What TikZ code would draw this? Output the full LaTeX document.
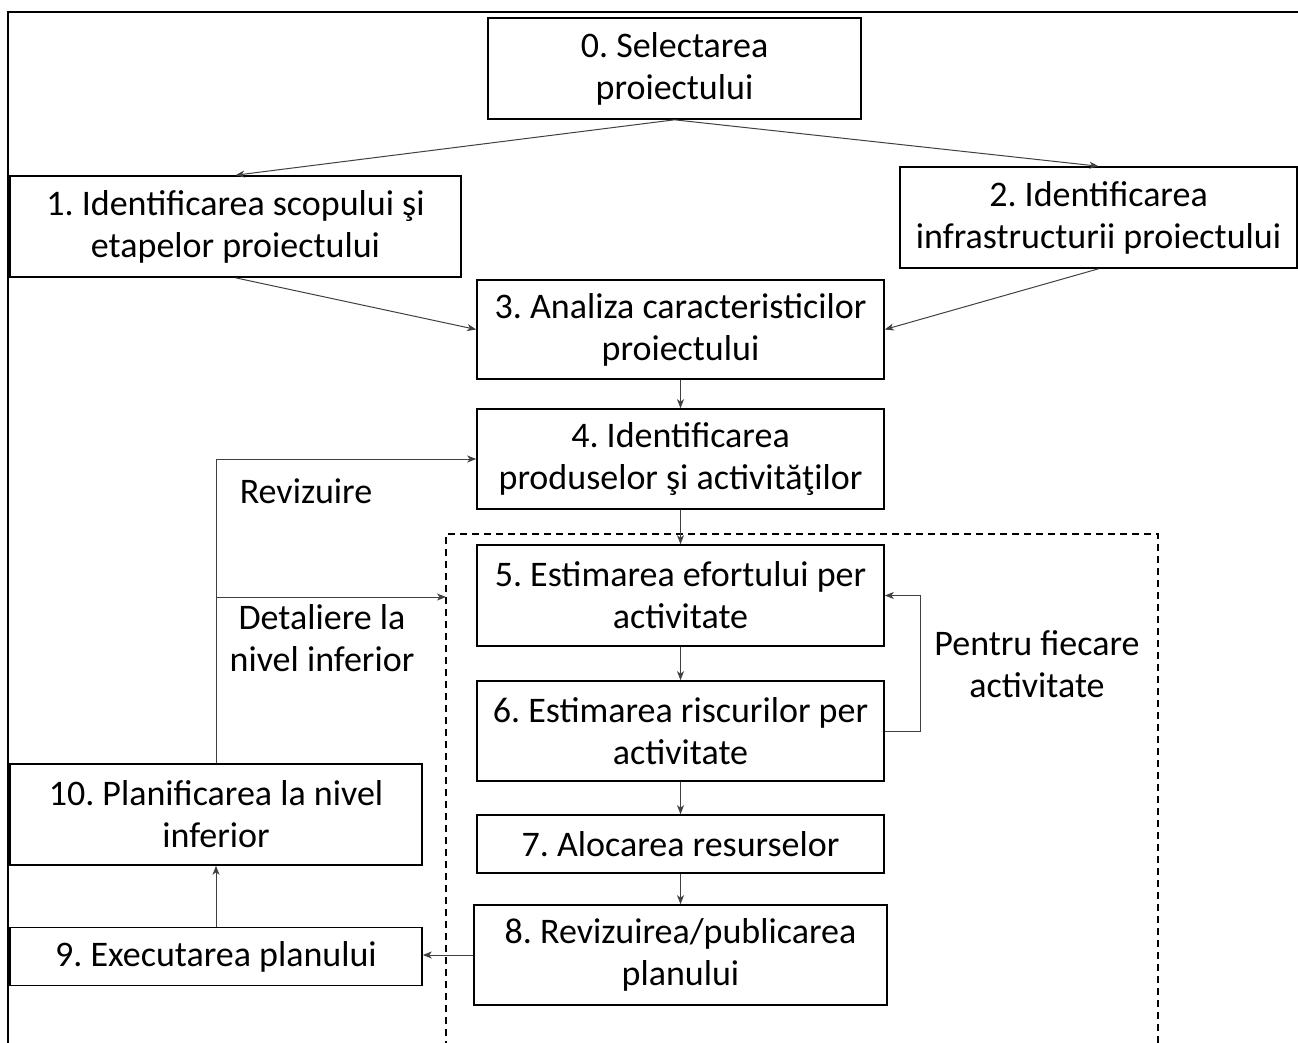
\documentclass[tikz,border=0pt]{standalone}
\usepackage{fontspec}
\setmainfont{Carlito}
\usetikzlibrary{arrows.meta}
\frenchspacing
\begin{document}
\begin{tikzpicture}[x=1pt,y=-1pt,
  every node/.style={font=\fontsize{36}{42}\selectfont, align=center},
  stepbox/.style={draw, line width=1.6pt, inner sep=0pt},
  link/.style={draw=black!75, line width=1pt, -{Stealth[length=9pt,width=7pt,inset=2.5pt]}},
  lbl/.style={inner sep=0pt}]
\useasboundingbox (0,0) rectangle (1298,1042);

% outer frame (continues past the page edge)
\draw[line width=1.6pt] (8,1060) |- (1320,12);

% dashed group around the per-activity steps
\draw[line width=1.4pt, dash pattern=on 7pt off 5pt] (446,1060) |- (1158,534) -- (1158,1060);

% process steps
\node[stepbox, minimum width=373pt, minimum height=101pt] (b0) at (674.5,68.5) {0. Selectarea\\proiectului};
\node[stepbox, minimum width=451pt, minimum height=101pt] (b1) at (235.5,226.5) {1. Identificarea scopului şi\\etapelor proiectului};
\node[stepbox, minimum width=397pt, minimum height=101pt] (b2) at (1098.5,217.5) {2. Identificarea\\infrastructurii proiectului};
\node[stepbox, minimum width=407pt, minimum height=99pt] (b3) at (680.5,329.5) {3. Analiza caracteristicilor\\proiectului};
\node[stepbox, minimum width=407pt, minimum height=100pt] (b4) at (680.5,459) {4. Identificarea\\produselor şi activităţilor};
\node[stepbox, minimum width=407pt, minimum height=101pt] (b5) at (680.5,595.5) {5. Estimarea efortului per\\activitate};
\node[stepbox, minimum width=407pt, minimum height=100pt] (b6) at (680.5,731) {6. Estimarea riscurilor per\\activitate};
\node[stepbox, minimum width=407pt, minimum height=58pt] (b7) at (680.5,844) {7. Alocarea resurselor};
\node[stepbox, minimum width=413pt, minimum height=100pt] (b8) at (680.5,955) {8. Revizuirea/publicarea\\planului};
\node[stepbox, minimum width=412pt, minimum height=58pt] (b9) at (216,956.5) {9. Executarea planului};
\node[stepbox, minimum width=412pt, minimum height=101pt] (b10) at (216,814.5) {10. Planificarea la nivel\\inferior};

% labels
\node[lbl] (rev) at (306,491) {Revizuire};
\node[lbl] (det) at (322,638.5) {Detaliere la\\nivel inferior};
\node[lbl] (pf) at (1037,664.5) {Pentru fiecare\\activitate};

% connectors
\draw[link] (b0.south) -- (b1.north);
\draw[link] (b0.south) -- (b2.north);
\draw[link] (b1.south) -- (b3.west);
\draw[link] (b2.south) -- (b3.east);
\draw[link] (b3.south) -- (b4.north);
\draw[link] (b4.south) -- (b5.north);
\draw[link] (b5.south) -- (b6.north);
\draw[link] (b6.south) -- (b7.north);
\draw[link] (b7.south) -- (b8.north);
\draw[link] (b6.east) -- ++(36,0) |- (b5.east);
\draw[link] (b8.west) -- (b8.west -| b9.east);
\draw[link] (b9.north) -- (b10.south);
\draw[link] (b10.north) |- (b4.west);
\coordinate (split) at (216,597);
\coordinate (grp) at (446,597);
\draw[link] (split) -- (grp);
\end{tikzpicture}
\end{document}
